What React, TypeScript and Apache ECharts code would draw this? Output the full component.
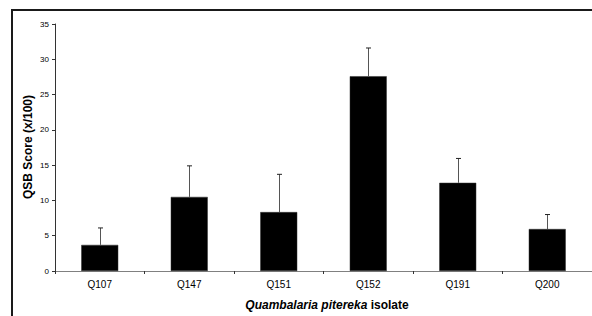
import React, { useEffect, useRef } from "react";
import * as echarts from "echarts";

const categories = ["Q107", "Q147", "Q151", "Q152", "Q191", "Q200"];
const means = [3.7, 10.5, 8.35, 27.6, 12.5, 5.95];
const upperErrors = [6.1, 14.9, 13.7, 31.6, 15.95, 8.0];
const yTicks = { min: 0, max: 35, interval: 5 };
const yTitle = "QSB Score (x/100)";
const xTitleItalic = "Quambalaria pitereka";
const xTitleRest = "isolate";

const FONT = "'Liberation Sans', Arial, sans-serif";

export default function App() {
  const ref = useRef<HTMLDivElement>(null);
  useEffect(() => {
    if (!ref.current) return;
    const chart = echarts.init(ref.current, null, { renderer: "svg" });
    const errData = categories.map((_, i) => [i, means[i], upperErrors[i]]);
    chart.setOption({
      animation: false,
      textStyle: { fontFamily: FONT },
      grid: { left: 55, top: 24, width: 542, height: 247, containLabel: false },
      xAxis: {
        type: "category",
        data: categories,
        boundaryGap: true,
        axisLine: { lineStyle: { color: "#808080", width: 1 } },
        axisTick: { show: true, length: 3, inside: false, lineStyle: { color: "#333" }, alignWithLabel: false },
        axisLabel: { color: "#000", fontSize: 10, margin: 8, fontFamily: FONT },
        splitLine: { show: false },
      },
      yAxis: {
        type: "value",
        min: yTicks.min,
        max: yTicks.max,
        interval: yTicks.interval,
        axisLine: { show: true, lineStyle: { color: "#333", width: 1 } },
        axisTick: { show: true, length: 3, lineStyle: { color: "#333" } },
        axisLabel: { color: "#000", fontSize: 8, margin: 6, fontFamily: FONT },
        splitLine: { show: false },
      },
      series: [
        {
          type: "bar",
          data: means,
          barWidth: 37,
          itemStyle: { color: "#000", borderColor: "#333", borderWidth: 0.5 },
          z: 2,
        },
        {
          type: "custom",
          data: errData,
          z: 3,
          renderItem: (params: any, api: any) => {
            const i = api.value(0);
            const lo = api.coord([i, api.value(1)]);
            const hi = api.coord([i, api.value(2)]);
            const x = Math.round(lo[0]) + 0.5;
            return {
              type: "group",
              children: [
                {
                  type: "line",
                  shape: { x1: x, y1: lo[1], x2: x, y2: hi[1] },
                  style: { stroke: "#555", lineWidth: 1 },
                },
                {
                  type: "line",
                  shape: { x1: x - 2.5, y1: hi[1], x2: x + 2.5, y2: hi[1] },
                  style: { stroke: "#222", lineWidth: 1 },
                },
              ],
            };
          },
        },
      ],
      graphic: [
        {
          type: "rect",
          z: 100,
          shape: { x: 11, y: 9, width: 2, height: 307 },
          style: { fill: "#1a1a1a" },
        },
        {
          type: "rect",
          z: 100,
          shape: { x: 11, y: 9, width: 581, height: 2 },
          style: { fill: "#1a1a1a" },
        },
        {
          type: "text",
          x: 28,
          y: 147,
          rotation: Math.PI / 2,
          style: {
            text: yTitle,
            font: `bold 12px ${FONT}`,
            fill: "#000",
            align: "center",
            verticalAlign: "middle",
          },
        },
        {
          type: "text",
          x: 327,
          y: 305,
          style: {
            text: `{i|${xTitleItalic}} {b|${xTitleRest}}`,
            align: "center",
            verticalAlign: "middle",
            rich: {
              i: { font: `italic bold 12px ${FONT}`, fill: "#000" },
              b: { font: `bold 12px ${FONT}`, fill: "#000" },
            },
          },
        },
      ],
    });
    return () => chart.dispose();
  }, []);
  return (
    <div style={{ position: "fixed", left: 0, top: 0, width: 592, height: 316, overflow: "hidden", background: "#fff" }}>
      <div ref={ref} style={{ position: "absolute", left: 0, top: 0, width: 592, height: 316 }} />
    </div>
  );
}
